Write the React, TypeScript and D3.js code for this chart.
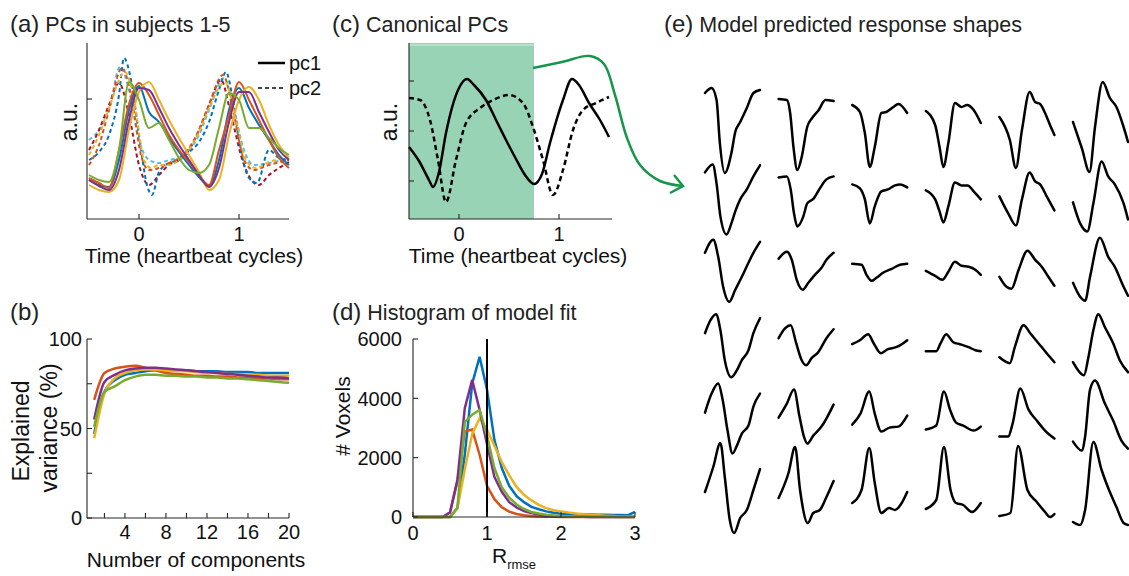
import * as d3 from "d3";

const FONT = "'Liberation Sans', Arial, Helvetica, sans-serif";
const INK = "#262626";

// MATLAB default colour order
const BLUE = "#0072BD";
const ORANGE = "#D95319";
const YELLOW = "#EDB120";
const PURPLE = "#7E2F8E";
const GREEN = "#77AC30";
const LIGHTBLUE = "#4DBEEE";
const DARKRED = "#A2142F";

type Pt = [number, number];

// ---------- (a) PCs in subjects 1-5 ----------
const timeA = [-0.5, -0.4, -0.3, -0.2, -0.1, 0, 0.1, 0.2, 0.3, 0.4, 0.5, 0.6, 0.7, 0.8, 0.9, 1.0, 1.1, 1.2, 1.3, 1.4, 1.5];
const pc1Blue = [3.9, 3.4, 3.2, 5.9, 10.9, 13.3, 10.7, 9.7, 8.1, 6.7, 5.4, 4.2, 3.3, 5.9, 10.9, 13.1, 11.1, 9.4, 7.9, 6.4, 5.4];
const pc1Orange = [4.1, 3.6, 3.1, 6.9, 11.5, 13.6, 12.4, 10.4, 8.4, 6.9, 5.7, 4.4, 3.4, 6.9, 10.4, 13.7, 11.9, 9.9, 7.9, 6.1, 5.1];
const pc1Yellow = [3.4, 2.9, 2.7, 3.9, 8.9, 12.7, 13.7, 11.9, 9.9, 8.1, 6.4, 4.7, 2.9, 3.9, 8.4, 11.9, 13.2, 11.9, 9.4, 7.4, 6.1];
const pc1Purple = [3.9, 3.3, 2.9, 4.9, 9.9, 13.1, 12.9, 11.1, 9.1, 7.4, 5.9, 4.4, 3.2, 5.1, 9.7, 12.7, 12.7, 10.7, 8.7, 6.9, 5.9];
const pc1Green = [4.4, 3.9, 3.7, 6.9, 13.7, 11.9, 9.1, 9.6, 7.9, 6.1, 4.9, 4.6, 5.4, 9.1, 12.6, 11.9, 9.1, 9.1, 8.1, 7.1, 6.4];

const pc2LightBlue: Pt[] = [[-0.5, 7.9], [-0.4, 8.9], [-0.3, 10.9], [-0.19, 15.2], [-0.1, 12.9], [0, 7.9], [0.1, 5.9], [0.2, 5.6], [0.3, 5.9], [0.4, 6.1], [0.5, 6.9], [0.6, 8.4], [0.7, 10.9], [0.85, 14.1], [0.95, 10.9], [1.05, 6.9], [1.15, 5.4], [1.3, 5.6], [1.5, 6.1]];
const pc2DarkRed: Pt[] = [[-0.5, 6.9], [-0.4, 8.9], [-0.3, 11.4], [-0.2, 13.6], [-0.1, 10.4], [0, 5.4], [0.1, 3.4], [0.2, 4.4], [0.3, 5.4], [0.4, 5.9], [0.5, 6.9], [0.6, 8.9], [0.7, 11.4], [0.82, 13.9], [0.92, 10.4], [1.05, 5.4], [1.2, 3.4], [1.3, 4.4], [1.4, 5.1], [1.5, 5.7]];
const pc2Blue: Pt[] = [[-0.5, 5.9], [-0.4, 6.7], [-0.3, 8.4], [-0.2, 12.4], [-0.15, 16.1], [-0.08, 13.9], [0, 8.4], [0.08, 3.4], [0.13, 2.4], [0.2, 4.7], [0.3, 5.6], [0.4, 5.9], [0.5, 6.7], [0.6, 7.7], [0.7, 9.7], [0.8, 12.9], [0.87, 14.7], [0.93, 12.4], [1.0, 7.9], [1.1, 4.1], [1.18, 3.6], [1.3, 6.9], [1.4, 6.1], [1.5, 5.9]];
const pc2Orange: Pt[] = [[-0.5, 5.4], [-0.4, 7.4], [-0.3, 10.9], [-0.17, 15.1], [-0.08, 12.4], [0.02, 6.4], [0.1, 4.9], [0.2, 5.1], [0.3, 5.6], [0.4, 6.1], [0.5, 7.1], [0.6, 8.9], [0.7, 11.4], [0.84, 14.4], [0.95, 10.4], [1.05, 5.9], [1.15, 4.9], [1.3, 5.4], [1.5, 5.9]];
const pc2Yellow: Pt[] = [[-0.5, 6.4], [-0.4, 8.4], [-0.3, 11.1], [-0.14, 14.7], [-0.05, 11.9], [0.05, 5.9], [0.12, 5.1], [0.2, 5.4], [0.3, 5.4], [0.4, 5.9], [0.5, 6.9], [0.6, 8.7], [0.7, 11.1], [0.86, 13.7], [0.97, 9.9], [1.07, 5.9], [1.17, 5.1], [1.3, 5.7], [1.5, 6.1]];

// ---------- (b) explained variance ----------
const components = [1, 2, 3, 4, 5, 6, 7, 8, 9, 10, 11, 12, 13, 14, 15, 16, 17, 18, 19, 20];
const varBlue = [47, 70.5, 77, 80, 81, 82, 82.5, 82.5, 82.5, 82.5, 82, 82, 82, 81.5, 81.5, 81.5, 81, 81, 81, 81];
const varOrange = [66, 81, 83.5, 84.5, 85, 84, 82.5, 81, 80.5, 80, 79.5, 79.5, 79, 79, 78.5, 78.5, 78, 78, 77.5, 77.5];
const varYellow = [44.5, 69.5, 78, 81, 82.5, 83, 83, 82.5, 82, 82, 81.5, 81, 81, 80.5, 80.5, 80, 80, 79.5, 79.5, 79.5];
const varPurple = [55, 76, 80, 82.5, 83.5, 84, 84, 83.5, 83, 82.5, 82, 81.5, 81, 80.5, 80, 79.5, 79, 78.5, 78.5, 78];
const varGreen = [51, 70.5, 73.5, 77, 79, 80, 80, 79.5, 79.5, 79, 79, 78.5, 78.5, 78, 78, 77.5, 77, 76.5, 76, 75.5];

// ---------- (c) canonical PCs ----------
const canonPc1: Pt[] = [[-0.5, -1.6], [-0.4, -3.0], [-0.3, -4.9], [-0.26, -5.6], [-0.2, -4.1], [-0.13, -0.2], [0, 4.3], [0.08, 5.2], [0.15, 4.6], [0.27, 3.1], [0.37, 1.1], [0.47, -0.9], [0.57, -2.8], [0.66, -4.4], [0.75, -5.3], [0.83, -4.3], [0.91, -1.2], [1.04, 3.1], [1.13, 5.2], [1.2, 4.6], [1.3, 2.8], [1.41, 1.1], [1.5, -0.6]];
const canonPc2: Pt[] = [[-0.5, 3.3], [-0.39, 3.1], [-0.29, 1.1], [-0.21, -2.9], [-0.13, -7.1], [-0.03, -2.9], [0.07, 0.8], [0.21, 2.3], [0.34, 3.1], [0.5, 3.6], [0.64, 2.8], [0.74, 0.4], [0.84, -2.9], [0.94, -6.4], [1.04, -3.9], [1.14, 0.1], [1.24, 2.1], [1.37, 2.8], [1.5, 3.4]];
const fitWindow = [-0.5, 0.75];

// ---------- (d) histogram of model fit ----------
const rBins = [0, 0.1, 0.2, 0.3, 0.4, 0.5, 0.6, 0.7, 0.8, 0.9, 1.0, 1.1, 1.2, 1.3, 1.4, 1.5, 1.6, 1.7, 1.8, 1.9, 2.0, 2.1, 2.2, 2.3, 2.4, 2.5, 2.6, 2.7, 2.8, 2.9, 3.0];
const histBlue = [0, 0, 0, 0, 0, 0, 300, 2100, 4500, 5400, 4300, 2600, 1650, 1050, 700, 500, 340, 260, 190, 140, 110, 100, 95, 90, 85, 80, 75, 70, 65, 55, 170];
const histOrange = [0, 0, 0, 0, 0, 150, 1200, 2880, 2950, 2100, 1050, 600, 330, 180, 100, 60, 30, 15, 10, 5, 0, 0, 0, 0, 0, 0, 0, 0, 0, 0, 0];
const histYellow = [0, 0, 0, 0, 0, 0, 300, 1600, 2800, 3330, 2950, 2400, 1850, 1400, 1015, 750, 560, 410, 300, 230, 190, 150, 120, 95, 75, 55, 40, 30, 20, 15, 10];
const histPurple = [0, 0, 0, 0, 0, 150, 1250, 3670, 4620, 3610, 2450, 1350, 850, 500, 320, 200, 130, 80, 45, 25, 15, 10, 5, 5, 0, 0, 0, 0, 0, 0, 0];
const histGreen = [0, 0, 0, 0, 0, 0, 300, 3200, 3450, 3610, 2750, 1650, 1000, 650, 420, 270, 170, 115, 75, 50, 30, 20, 15, 10, 10, 5, 5, 5, 0, 0, 0];

// ---------- (e) model predicted response shapes, [t, a.u.] per cell ----------
const shapesRow1: Pt[][] = [
  [[0, 3.4], [0.12, 3.9], [0.21, 2.7], [0.27, -1.6], [0.36, -4.6], [0.48, -2.6], [0.55, -0.5], [0.64, 0.5], [0.76, 1.9], [0.88, 3.4], [1, 3.7]],
  [[0, 2.8], [0.15, 2.7], [0.21, 1.4], [0.27, -2.0], [0.34, -4.3], [0.42, -3.0], [0.52, 0], [0.61, 0.9], [0.73, 1.7], [0.85, 2.7], [1, 2.6]],
  [[0, 2.2], [0.14, 1.5], [0.23, -0.6], [0.32, -4.0], [0.41, -2.0], [0.53, 1.4], [0.62, 1.5], [0.75, 2.0], [0.84, 2.3], [1, 1.4]],
  [[0, 1.6], [0.17, 0.2], [0.25, -2.0], [0.32, -4.0], [0.41, -1.6], [0.53, 2.4], [0.65, 2.0], [0.75, 2.2], [0.87, 1.7], [1, 0.4]],
  [[0, 1.0], [0.19, -1.3], [0.3, -4.1], [0.41, -0.3], [0.55, 3.5], [0.65, 2.5], [0.74, 2.3], [0.83, 1.4], [0.92, 0.2], [1, -0.8]],
  [[0, 0.5], [0.16, -2.1], [0.3, -4.5], [0.4, 0], [0.54, 4.5], [0.67, 2.9], [0.79, 2.0], [0.92, 0], [1, -1.5]],
];
const shapesRow2: Pt[][] = [
  [[0, 2.7], [0.14, 3.5], [0.21, 1.6], [0.28, -1.7], [0.39, -3.5], [0.48, -2.4], [0.55, -1.2], [0.64, 0], [0.76, 1.0], [0.88, 2.3], [1, 3.4]],
  [[0, 2.2], [0.15, 2.3], [0.22, 1.0], [0.28, -1.4], [0.34, -2.7], [0.45, -1.7], [0.52, -0.4], [0.64, 0.1], [0.75, 1.1], [0.87, 2.0], [1, 2.3]],
  [[0, 1.5], [0.14, 1.1], [0.23, 0], [0.32, -2.4], [0.41, -0.7], [0.53, 0.8], [0.65, 1.0], [0.78, 1.4], [0.87, 1.5], [1, 1.2]],
  [[0, 0.9], [0.17, 0], [0.25, -1.2], [0.32, -2.3], [0.41, -0.7], [0.53, 1.7], [0.65, 1.4], [0.76, 1.4], [0.87, 0.8], [1, 0]],
  [[0, 0.3], [0.16, -1.4], [0.3, -2.6], [0.41, 0], [0.55, 2.7], [0.65, 1.8], [0.74, 1.5], [0.86, 0.3], [1, -1.1]],
  [[0, -0.3], [0.13, -2.4], [0.26, -3.2], [0.37, -0.4], [0.52, 3.8], [0.64, 2.3], [0.76, 1.5], [0.92, -0.4], [1, -2.0]],
];
const shapesRow3: Pt[][] = [
  [[0, 1.9], [0.15, 3.2], [0.24, 1.5], [0.33, -1.5], [0.44, -3.0], [0.55, -1.8], [0.67, -0.5], [0.79, 0.9], [0.88, 1.9], [1, 3.0]],
  [[0, 1.3], [0.15, 2.0], [0.24, 1.2], [0.33, -0.8], [0.44, -1.8], [0.54, -1.1], [0.66, -0.3], [0.78, 0.4], [0.87, 1.2], [1, 1.9]],
  [[0, 0.8], [0.17, 0.7], [0.26, -0.3], [0.35, -0.9], [0.44, -0.6], [0.56, -0.1], [0.72, 0.3], [0.87, 0.7], [1, 0.8]],
  [[0, 0.1], [0.17, -0.4], [0.3, -0.8], [0.41, 0], [0.53, 1.0], [0.65, 0.6], [0.78, 0.5], [0.9, 0.2], [1, -0.3]],
  [[0, -0.5], [0.13, -1.5], [0.22, -1.7], [0.35, 0.2], [0.51, 2.1], [0.65, 1.2], [0.77, 0.5], [0.89, -0.5], [1, -1.4]],
  [[0, -1.1], [0.13, -2.5], [0.22, -2.9], [0.31, -0.5], [0.49, 3.4], [0.64, 1.5], [0.76, 0.5], [0.92, -1.5], [1, -2.4]],
];
const shapesRow4: Pt[][] = [
  [[0, 1.1], [0.1, 2.4], [0.2, 3.0], [0.28, 1.4], [0.36, -1.6], [0.48, -3.3], [0.58, -2.6], [0.67, -1.6], [0.79, -0.6], [0.88, 1.1], [1, 2.6]],
  [[0, 0.6], [0.12, 1.6], [0.22, 1.9], [0.32, 0.1], [0.42, -1.6], [0.5, -2.1], [0.6, -1.4], [0.72, -0.8], [0.87, 0.6], [1, 1.5]],
  [[0, 0], [0.14, 0.4], [0.29, 1.0], [0.39, 0.1], [0.52, -0.9], [0.65, -0.5], [0.8, -0.3], [0.93, 0.1], [1, 0.4]],
  [[0, -0.7], [0.19, -0.7], [0.27, 0.1], [0.37, 1.0], [0.5, 0.2], [0.62, 0], [0.78, -0.3], [0.9, -0.6], [1, -0.7]],
  [[0, -1.3], [0.1, -1.7], [0.19, -1.9], [0.28, -0.3], [0.44, 1.9], [0.56, 1.1], [0.71, 0.1], [0.86, -0.9], [1, -1.8]],
  [[0, -1.8], [0.12, -2.8], [0.2, -3.1], [0.28, -1.3], [0.37, 1.4], [0.46, 3.0], [0.58, 1.7], [0.73, 0.1], [0.85, -1.6], [1, -2.8]],
];
const shapesRow5: Pt[][] = [
  [[0, 0.4], [0.12, 2.3], [0.24, 3.3], [0.32, 1.7], [0.41, -1.4], [0.5, -3.7], [0.58, -2.9], [0.67, -1.7], [0.79, -0.9], [0.88, 1.0], [1, 2.3]],
  [[0, -0.1], [0.15, 1.3], [0.28, 2.7], [0.38, 0], [0.46, -2.0], [0.52, -2.7], [0.63, -1.9], [0.78, -1.0], [1, 1.2]],
  [[0, -0.8], [0.15, 0.3], [0.31, 2.5], [0.41, 0.3], [0.53, -1.5], [0.68, -1.1], [0.84, -1.0], [1, 0.1]],
  [[0, -1.3], [0.19, -0.9], [0.33, 2.5], [0.44, 0.7], [0.55, -0.6], [0.68, -0.9], [0.87, -1.4], [1, -1.0]],
  [[0, -2.0], [0.16, -2.0], [0.24, -0.7], [0.38, 2.8], [0.53, 0.7], [0.68, -0.4], [0.83, -1.4], [1, -2.2]],
  [[0, -2.5], [0.16, -3.4], [0.22, -2.0], [0.31, 2.7], [0.4, 3.6], [0.58, 1.3], [0.73, -0.4], [0.88, -2.4], [1, -3.2]],
];
const shapesRow6: Pt[][] = [
  [[0, -0.3], [0.15, 2.2], [0.28, 4.6], [0.36, 1.2], [0.45, -3.1], [0.53, -4.4], [0.64, -2.9], [0.76, -2.1], [0.88, -0.1], [1, 2.0]],
  [[0, -0.9], [0.18, 1.6], [0.3, 4.2], [0.39, -0.1], [0.53, -3.4], [0.63, -2.4], [0.75, -2.1], [0.87, -0.8], [1, 0.8]],
  [[0, -1.4], [0.17, -0.1], [0.31, 4.1], [0.41, 0.6], [0.53, -2.4], [0.67, -1.9], [0.78, -2.1], [0.9, -1.4], [1, -0.3]],
  [[0, -2.0], [0.19, -1.1], [0.33, 4.2], [0.45, -0.1], [0.55, -1.4], [0.68, -1.6], [0.84, -2.3], [1, -1.4]],
  [[0, -2.7], [0.2, -2.4], [0.34, 4.3], [0.51, -0.1], [0.68, -1.3], [0.83, -2.3], [0.92, -2.8], [1, -2.5]],
  [[0, -3.3], [0.13, -3.6], [0.22, -2.1], [0.37, 4.7], [0.52, 1.9], [0.64, 0.1], [0.79, -1.8], [0.92, -3.4], [1, -3.6]],
];

// ---------- scales ----------
const xA = d3.scaleLinear().domain([-0.52, 1.5]).range([87, 289]);
const yA = d3.scaleLinear().domain([0, 17.6]).range([219, 43]);
const xB = d3.scaleLinear().domain([0.3, 20]).range([87, 289]);
const yB = d3.scaleLinear().domain([0, 100]).range([518, 339]);
const xC = d3.scaleLinear().domain([-0.5, 1.53]).range([409, 612]);
const yC = d3.scaleLinear().domain([-8.8, 8.8]).range([219, 43]);
const xD = d3.scaleLinear().domain([0, 3]).range([413, 635]);
const yD = d3.scaleLinear().domain([0, 6000]).range([517, 339]);

const gridCol = d3.scalePoint<number>().domain([0, 1, 2, 3, 4, 5]).range([705, 1073]);
const gridRow = d3.scalePoint<number>().domain([0, 1, 2, 3, 4, 5]).range([127, 489]);
const cellX = d3.scaleLinear().domain([0, 1]).range([0, 55]);
const cellY = d3.scaleLinear().domain([-5, 5]).range([50, -50]);

const smooth = (x: any, y: any) =>
  d3.line<Pt>().x((d) => x(d[0])).y((d) => y(d[1])).curve(d3.curveMonotoneX);
const zip = (xs: number[], ys: number[]): Pt[] => xs.map((v, i) => [v, ys[i]]);

function LeftAxis({ x, scale, ticks, labels = [], gap = 6 }: any) {
  const [y0, y1] = scale.range();
  return (
    <g>
      <line x1={x} x2={x} y1={y0} y2={y1} stroke={INK} strokeWidth={1.1} />
      {ticks.map((t: number) => (
        <line key={t} x1={x} x2={x + 5} y1={scale(t)} y2={scale(t)} stroke={INK} strokeWidth={1.1} />
      ))}
      {labels.map((t: number) => (
        <text key={t} x={x - gap} y={scale(t)} dy="0.36em" textAnchor="end" fontSize={20} fill="#111">
          {t}
        </text>
      ))}
    </g>
  );
}

function BottomAxis({ y, scale, ticks, labels = [], gap = 22 }: any) {
  const [x0, x1] = scale.range();
  return (
    <g>
      <line x1={x0} x2={x1} y1={y} y2={y} stroke={INK} strokeWidth={1.1} />
      {ticks.map((t: number) => (
        <line key={t} x1={scale(t)} x2={scale(t)} y1={y} y2={y - 5} stroke={INK} strokeWidth={1.1} />
      ))}
      {labels.map((t: number) => (
        <text key={t} x={scale(t)} y={y + gap} textAnchor="middle" fontSize={20} fill="#111">
          {t}
        </text>
      ))}
    </g>
  );
}

function Title({ x, y, tag, text }: any) {
  return (
    <text x={x} y={y} fontSize={21.5} fill="#222">
      <tspan fontSize={24}>{tag}</tspan> {text}
    </text>
  );
}

export default function App() {
  const lineA = smooth(xA, yA);
  const lineB = smooth(xB, yB);
  const lineC = smooth(xC, yC);
  const lineD = d3.line<Pt>().x((d) => xD(d[0])).y((d) => yD(d[1]));
  const lineCell = smooth(cellX, cellY);

  const pc1Series = [
    { c: BLUE, v: pc1Blue },
    { c: ORANGE, v: pc1Orange },
    { c: YELLOW, v: pc1Yellow },
    { c: PURPLE, v: pc1Purple },
    { c: GREEN, v: pc1Green },
  ];
  const pc2Series = [
    { c: LIGHTBLUE, p: pc2LightBlue },
    { c: DARKRED, p: pc2DarkRed },
    { c: BLUE, p: pc2Blue },
    { c: ORANGE, p: pc2Orange },
    { c: YELLOW, p: pc2Yellow },
  ];
  const varSeries = [
    { c: BLUE, v: varBlue },
    { c: ORANGE, v: varOrange },
    { c: YELLOW, v: varYellow },
    { c: PURPLE, v: varPurple },
    { c: GREEN, v: varGreen },
  ];
  const histSeries = [
    { c: BLUE, v: histBlue },
    { c: ORANGE, v: histOrange },
    { c: YELLOW, v: histYellow },
    { c: PURPLE, v: histPurple },
    { c: GREEN, v: histGreen },
  ];
  const shapeRows = [shapesRow1, shapesRow2, shapesRow3, shapesRow4, shapesRow5, shapesRow6];

  const arrowPath = d3.line().curve(d3.curveCatmullRom)([
    [533, 68], [562, 62], [590, 56], [604, 64], [615, 95], [627, 138], [640, 165], [660, 181], [683, 186],
  ]);

  return (
    <svg
      width={1129}
      height={576}
      style={{ position: "absolute", left: 0, top: 0, background: "#fff" }}
      fontFamily={FONT}
    >
      <rect width={1129} height={576} fill="#fff" />

      {/* (a) */}
      <Title x={10} y={32} tag="(a)" text="PCs in subjects 1-5" />
      <g fill="none" strokeWidth={2}>
        {pc2Series.map((s, i) => (
          <path key={"d" + i} d={lineA(s.p) || ""} stroke={s.c} strokeDasharray="4 3" />
        ))}
        {pc1Series.map((s, i) => (
          <path key={"s" + i} d={lineA(zip(timeA, s.v)) || ""} stroke={s.c} />
        ))}
      </g>
      <LeftAxis x={87} scale={yA} ticks={[12]} />
      <BottomAxis y={219} scale={xA} ticks={[0, 1]} labels={[0, 1]} />
      <text transform="translate(77,122) rotate(-90)" textAnchor="middle" fontSize={23} fill="#111">a.u.</text>
      <text x={194} y={263} textAnchor="middle" fontSize={21} fill="#111">Time (heartbeat cycles)</text>
      <line x1={258} x2={285} y1={63} y2={63} stroke="#000" strokeWidth={2.5} />
      <line x1={258} x2={285} y1={88} y2={88} stroke="#444" strokeWidth={2} strokeDasharray="4 3" />
      <text x={289} y={70} fontSize={20} fill="#111">pc1</text>
      <text x={289} y={95} fontSize={20} fill="#111">pc2</text>

      {/* (b) */}
      <text x={10} y={320} fontSize={24} fill="#222">(b)</text>
      <g fill="none" strokeWidth={2.5}>
        {varSeries.map((s, i) => (
          <path key={i} d={lineB(zip(components, s.v)) || ""} stroke={s.c} />
        ))}
      </g>
      <LeftAxis x={87} scale={yB} ticks={[0, 25, 50, 75, 100]} labels={[0, 50, 100]} gap={5} />
      <BottomAxis y={518} scale={xB} ticks={[2, 4, 6, 8, 10, 12, 14, 16, 18, 20]} labels={[4, 8, 12, 16, 20]} gap={21} />
      <text transform="translate(29,431) rotate(-90)" textAnchor="middle" fontSize={23} fill="#111">Explained</text>
      <text transform="translate(57,428) rotate(-90)" textAnchor="middle" fontSize={23} fill="#111">variance (%)</text>
      <text x={196} y={567} textAnchor="middle" fontSize={21} fill="#111">Number of components</text>

      {/* (c) */}
      <Title x={332} y={32} tag="(c)" text="Canonical PCs" />
      <rect
        x={xC(fitWindow[0])}
        y={43}
        width={xC(fitWindow[1]) - xC(fitWindow[0])}
        height={176}
        fill="#99D3B5"
      />
      <line x1={xC(fitWindow[0])} x2={xC(fitWindow[1])} y1={45} y2={45} stroke="#d4eee0" strokeWidth={1} />
      <g fill="none" stroke="#000" strokeWidth={2.5}>
        <path d={lineC(canonPc2) || ""} strokeDasharray="5 3.5" />
        <path d={lineC(canonPc1) || ""} />
      </g>
      <LeftAxis x={409} scale={yC} ticks={[-5, 0, 5]} />
      <BottomAxis y={219} scale={xC} ticks={[0, 1]} labels={[0, 1]} />
      <text transform="translate(397,122) rotate(-90)" textAnchor="middle" fontSize={23} fill="#111">a.u.</text>
      <text x={518} y={263} textAnchor="middle" fontSize={21} fill="#111">Time (heartbeat cycles)</text>
      <path d={arrowPath || ""} fill="none" stroke="#15964a" strokeWidth={2.5} />
      <path d="M674,175 L683,186 L670,193" fill="none" stroke="#15964a" strokeWidth={2.5} />

      {/* (d) */}
      <Title x={332} y={320} tag="(d)" text="Histogram of model fit" />
      <g fill="none" strokeWidth={2.5}>
        {histSeries.map((s, i) => (
          <path key={i} d={lineD(zip(rBins, s.v)) || ""} stroke={s.c} />
        ))}
      </g>
      <line x1={xD(1)} x2={xD(1)} y1={yD(6000)} y2={yD(0)} stroke="#000" strokeWidth={2} />
      <LeftAxis x={413} scale={yD} ticks={[0, 2000, 4000, 6000]} labels={[0, 2000, 4000, 6000]} gap={11} />
      <BottomAxis y={517} scale={xD} ticks={[0, 1, 2, 3]} labels={[0, 1, 2, 3]} gap={23} />
      <text transform="translate(350,416) rotate(-90)" textAnchor="middle" fontSize={21} fill="#111"># Voxels</text>
      <text x={492} y={563} fontSize={21} fill="#111">
        R<tspan fontSize={13} dy={6}>rmse</tspan>
      </text>

      {/* (e) */}
      <Title x={664} y={32} tag="(e)" text="Model predicted response shapes" />
      <g fill="none" stroke="#000" strokeWidth={2.5} strokeLinejoin="round" strokeLinecap="round">
        {shapeRows.map((row, r) =>
          row.map((pts, c) => (
            <path
              key={r + "-" + c}
              transform={`translate(${gridCol(c)},${gridRow(r)})`}
              d={lineCell(pts) || ""}
            />
          ))
        )}
      </g>
    </svg>
  );
}
